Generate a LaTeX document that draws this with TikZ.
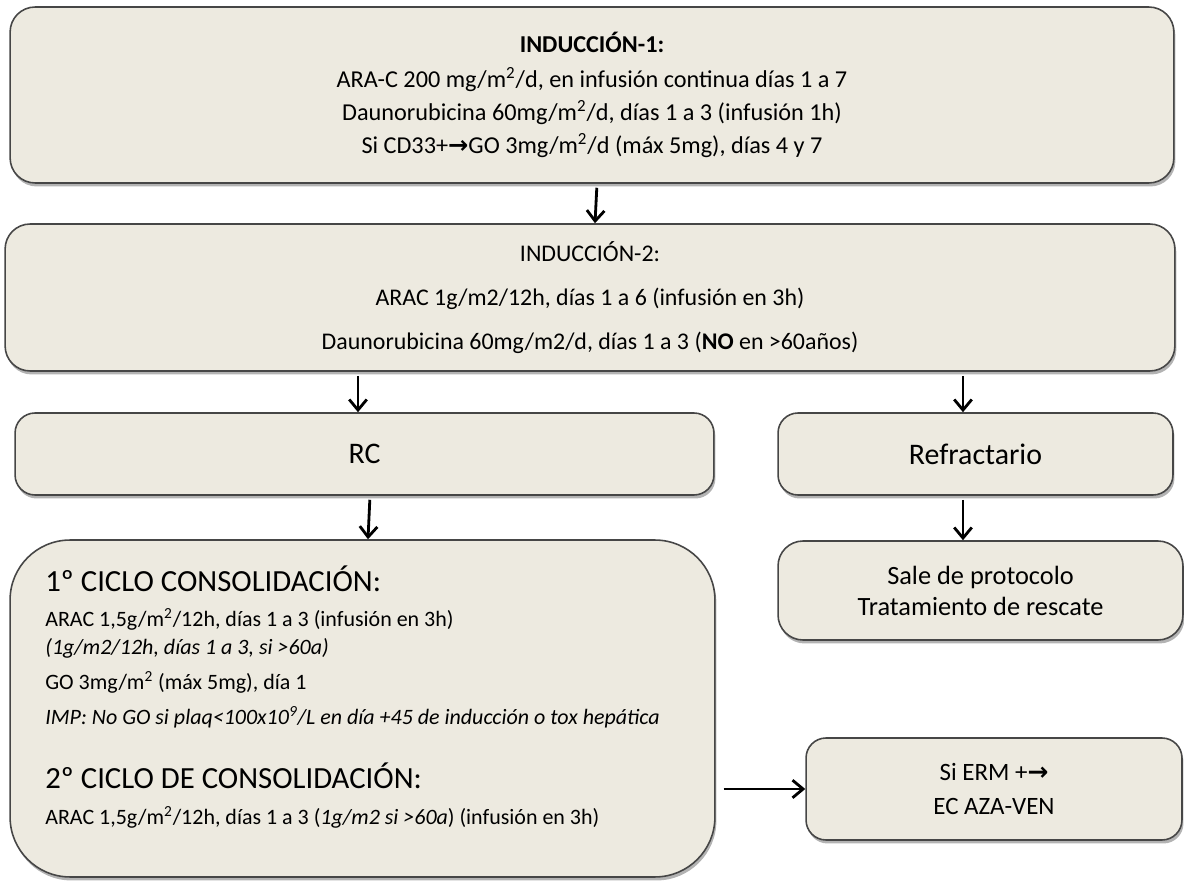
\documentclass[tikz,border=0pt]{standalone}
\usepackage{fontspec}
\setmainfont{Carlito}
\newfontfamily\arrowfont{DejaVu Sans}
\usetikzlibrary{arrows.meta, shadows}
\definecolor{boxfill}{RGB}{237,234,224}
\definecolor{boxline}{RGB}{70,70,70}
\newcommand{\thickto}{{\arrowfont\bfseries →}}

\begin{document}
\begin{tikzpicture}[x=0.02cm, y=-0.02cm, every node/.style = {inner sep=0pt}]

\tikzstyle{phase_box} = [rounded corners=0.5cm, draw=boxline, line width=0.9pt, fill=boxfill,
	drop shadow={shadow xshift=0.03cm, shadow yshift=-0.07cm, fill=black!50, opacity=0.6}]
\tikzstyle{flow_arrow} = [-{Straight Barb[length=6pt,width=10pt]}, line width=1.6pt, shorten <=0.08cm]

\useasboundingbox (0,0) rectangle (1184,881);

% induction
\node[phase_box, minimum width=23.28cm, minimum height=3.52cm, align=center,
	font=\fontsize{13.8}{18.8}\selectfont] (ind1) at (592,95)
	{\textbf{INDUCCIÓN-1:}\\[1pt] ARA-C 200 mg/m\textsuperscript{2}/d, en infusión continua días 1 a 7\\
	Daunorubicina 60mg/m\textsuperscript{2}/d, días 1 a 3 (infusión 1h)\\
	Si CD33+\thickto GO 3mg/m\textsuperscript{2}/d (máx 5mg), días 4 y 7};
\node[phase_box, minimum width=23.4cm, minimum height=2.94cm, align=center,
	font=\fontsize{13.6}{25}\selectfont] (ind2) at (590,297.5)
	{INDUCCIÓN-2:\\ ARAC 1g/m2/12h, días 1 a 6 (infusión en 3h)\\
	Daunorubicina 60mg/m2/d, días 1 a 3 (\textbf{NO} en >60años)};

% response
\node[phase_box, rounded corners=0.4cm, minimum width=13.98cm, minimum height=1.64cm,
	font=\fontsize{17}{20}\selectfont] (rc) at (364.5,454) {RC};
\node[phase_box, rounded corners=0.4cm, minimum width=7.9cm, minimum height=1.64cm,
	font=\fontsize{17}{20}\selectfont] (refr) at (975.5,454) {Refractario};

% consolidation
\node[phase_box, rounded corners=1.2cm, minimum width=14.1cm, minimum height=6.74cm] (cons) at (362.5,708.5) {};
\node[anchor=north west, align=left, font=\fontsize{12.5}{16}\selectfont] (cons_txt) at (45,565)
	{{\fontsize{17.5}{20}\selectfont 1º CICLO CONSOLIDACIÓN:}\\[4pt]
	ARAC 1,5g/m\textsuperscript{2}/12h, días 1 a 3 (infusión en 3h)\\
	\textit{(1g/m2/12h, días 1 a 3, si >60a)}\\[4pt]
	GO 3mg/m\textsuperscript{2} (máx 5mg), día 1\\[4pt]
	\textit{IMP: No GO si plaq<100x10\textsuperscript{9}/L en día +45 de inducción o tox hepática}\\[19pt]
	{\fontsize{17.5}{20}\selectfont 2º CICLO DE CONSOLIDACIÓN:}\\[4pt]
	ARAC 1,5g/m\textsuperscript{2}/12h, días 1 a 3 (\textit{1g/m2 si >60a}) (infusión en 3h)};

% exits
\node[phase_box, minimum width=8.1cm, minimum height=1.98cm, align=center,
	font=\fontsize{15}{17.6}\selectfont] (sale) at (980.5,590.5)
	{Sale de protocolo\\ Tratamiento de rescate};
\node[phase_box, rounded corners=0.4cm, minimum width=7.52cm, minimum height=2.04cm, align=center,
	font=\fontsize{14.2}{19.4}\selectfont] (erm) at (994,789)
	{Si ERM +\thickto\\ EC AZA-VEN};

\draw[flow_arrow] ([xshift=0.1cm]ind1.south) -- ([xshift=0.1cm]ind2.north);
\draw[flow_arrow] (ind2.south -| 358,0) -- (rc.north -| 358,0);
\draw[flow_arrow] (ind2.south -| 963,0) -- (refr.north -| 963,0);
\draw[flow_arrow] ([xshift=0.11cm]rc.south) -- ([xshift=0.11cm]cons.north);
\draw[flow_arrow] (refr.south -| 963,0) -- (sale.north -| 963,0);
\draw[flow_arrow, shorten <=0.16cm] (cons.east |- erm.west) -- (erm.west);
\end{tikzpicture}
\end{document}
